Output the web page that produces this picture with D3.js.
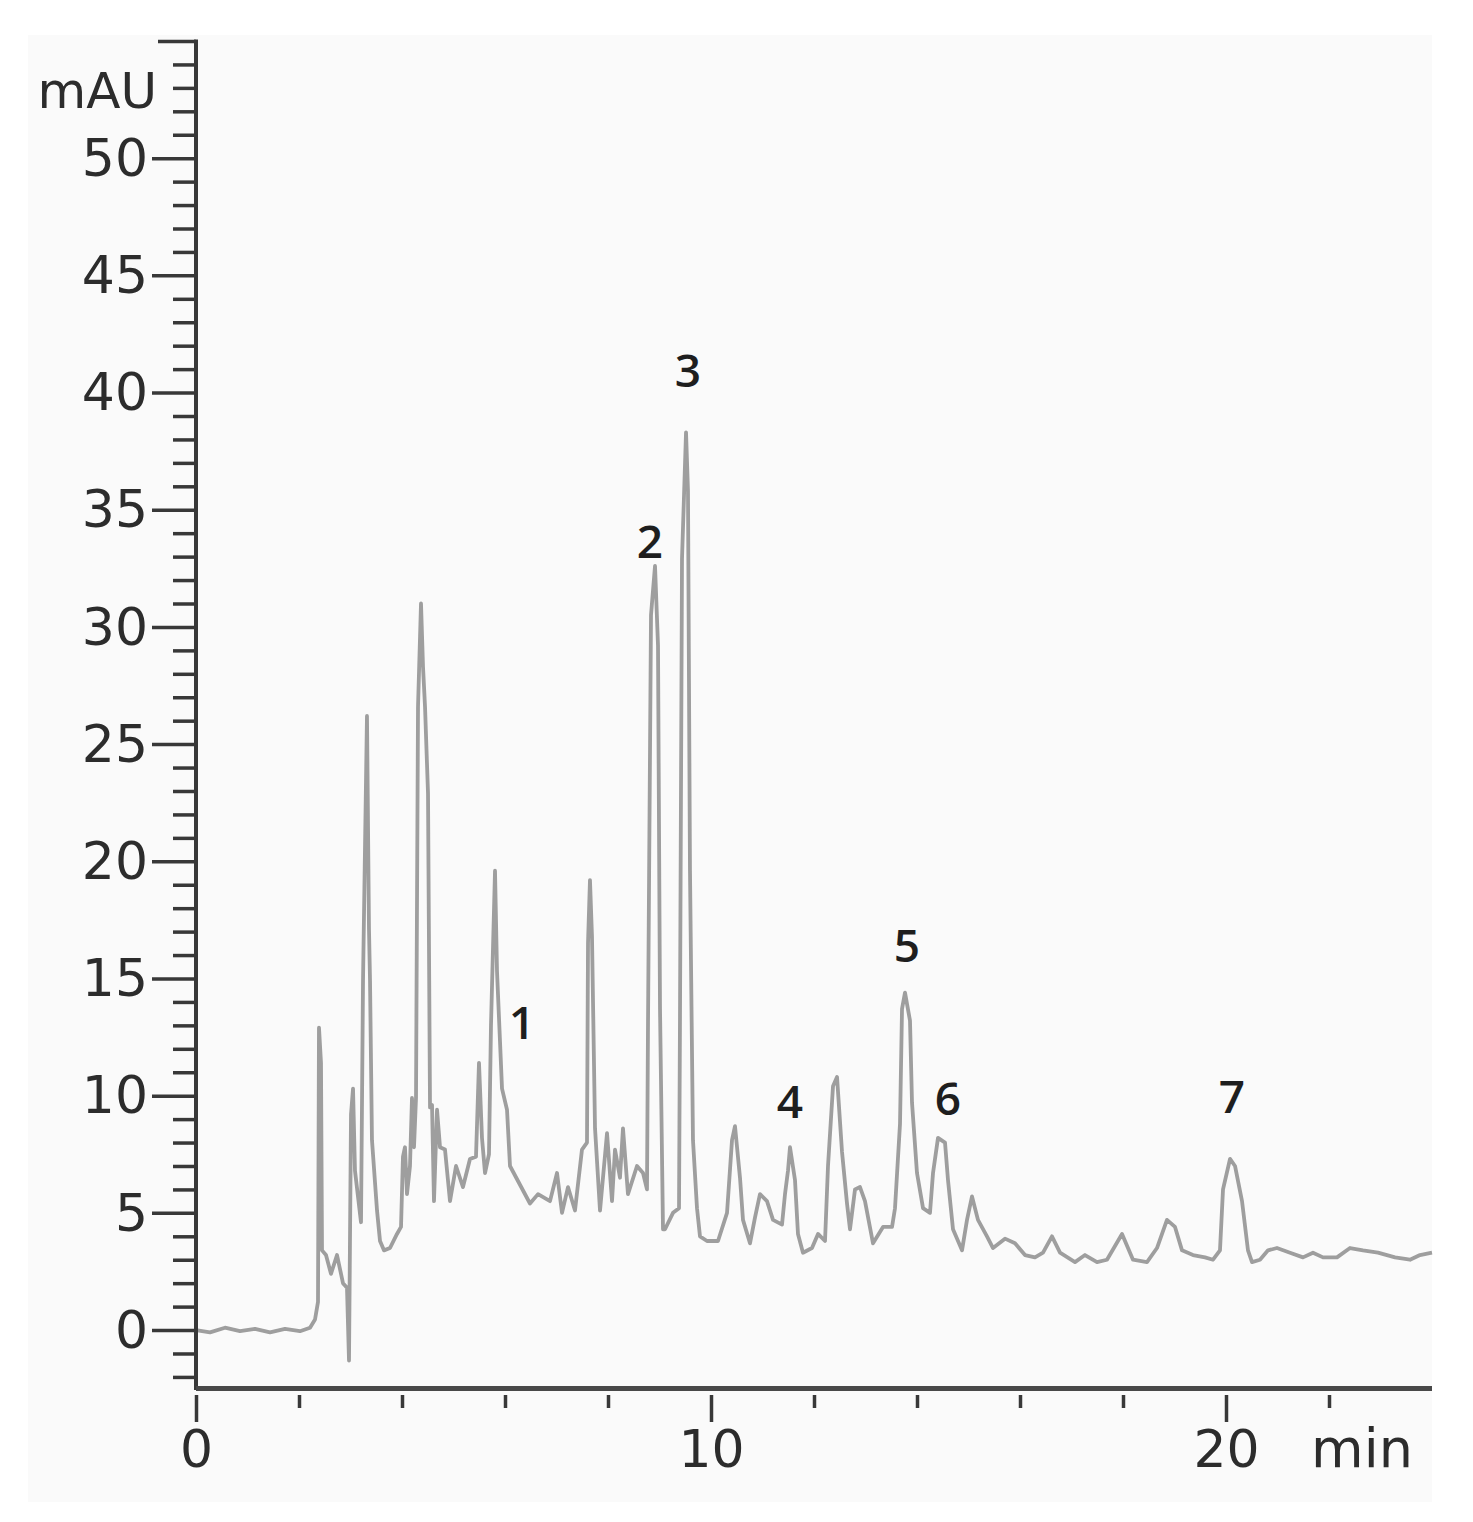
<!DOCTYPE html>
<html>
<head>
<meta charset="utf-8">
<script src="https://cdn.jsdelivr.net/npm/d3@7"></script>
<style>
  html, body { margin: 0; padding: 0; background: #ffffff; }
  svg { display: block; }
</style>
</head>
<body>
<svg id="chart" width="1473" height="1522"></svg>
<script>
// ---- data (retention time in min, absorbance in mAU) ----
const times = [
  0.000, 0.272, 0.563, 0.854, 1.146, 1.437, 1.728, 2.019, 2.214, 2.311,
  2.369, 2.388, 2.427, 2.447, 2.524, 2.621, 2.738, 2.854, 2.932, 2.971,
  3.010, 3.049, 3.087, 3.204, 3.243, 3.320, 3.359, 3.379, 3.417, 3.515,
  3.573, 3.650, 3.767, 3.903, 3.981, 4.019, 4.058, 4.097, 4.155, 4.194,
  4.233, 4.272, 4.311, 4.369, 4.408, 4.447, 4.505, 4.544, 4.583, 4.621,
  4.680, 4.738, 4.835, 4.932, 5.049, 5.184, 5.320, 5.437, 5.495, 5.553,
  5.612, 5.689, 5.728, 5.806, 5.845, 5.942, 6.039, 6.097, 6.291, 6.485,
  6.641, 6.874, 7.010, 7.107, 7.223, 7.359, 7.495, 7.592, 7.612, 7.650,
  7.689, 7.748, 7.845, 7.981, 8.078, 8.136, 8.233, 8.291, 8.388, 8.563,
  8.680, 8.757, 8.777, 8.835, 8.913, 8.971, 9.010, 9.068, 9.107, 9.262,
  9.379, 9.398, 9.437, 9.515, 9.553, 9.592, 9.650, 9.728, 9.786, 9.922,
  10.136, 10.311, 10.408, 10.466, 10.563, 10.621, 10.757, 10.854, 10.951, 11.087,
  11.204, 11.379, 11.437, 11.495, 11.534, 11.631, 11.689, 11.786, 11.961, 12.078,
  12.214, 12.272, 12.369, 12.447, 12.544, 12.641, 12.699, 12.796, 12.893, 12.990,
  13.146, 13.340, 13.515, 13.573, 13.670, 13.709, 13.767, 13.864, 13.903, 14.000,
  14.117, 14.252, 14.311, 14.408, 14.544, 14.602, 14.699, 14.874, 14.971, 15.068,
  15.184, 15.359, 15.476, 15.709, 15.903, 16.097, 16.291, 16.447, 16.621, 16.777,
  17.068, 17.262, 17.495, 17.689, 17.981, 18.194, 18.466, 18.660, 18.854, 19.010,
  19.146, 19.359, 19.592, 19.748, 19.883, 19.942, 20.078, 20.175, 20.311, 20.427,
  20.505, 20.660, 20.816, 20.990, 21.243, 21.495, 21.689, 21.883, 22.155, 22.408,
  22.660, 22.951, 23.282, 23.573, 23.767, 24.000
];
const signal = [
  0.0, -0.1, 0.1, -0.05, 0.05, -0.1, 0.05, -0.05, 0.1, 0.45,
  1.2, 12.9, 11.4, 3.4, 3.2, 2.4, 3.2, 2.0, 1.8, -1.3,
  9.2, 10.3, 6.8, 4.6, 14.9, 26.2, 17.1, 14.9, 8.1, 5.1,
  3.8, 3.4, 3.5, 4.1, 4.4, 7.4, 7.8, 5.8, 7.0, 9.9,
  7.8, 9.9, 26.6, 31.0, 28.3, 26.6, 22.9, 9.5, 9.6, 5.5,
  9.4, 7.8, 7.7, 5.5, 7.0, 6.1, 7.3, 7.4, 11.4, 8.2,
  6.7, 7.5, 13.0, 19.6, 15.3, 10.3, 9.4, 7.0, 6.2, 5.4,
  5.8, 5.5, 6.7, 5.0, 6.1, 5.1, 7.7, 8.0, 16.5, 19.2,
  16.8, 8.6, 5.1, 8.4, 5.5, 7.7, 6.5, 8.6, 5.8, 7.0,
  6.7, 6.0, 13.1, 30.5, 32.6, 29.2, 13.7, 4.3, 4.3, 5.0,
  5.2, 13.4, 32.9, 38.3, 35.8, 19.6, 8.1, 5.2, 4.0, 3.8,
  3.8, 5.0, 8.1, 8.7, 6.5, 4.7, 3.7, 4.8, 5.8, 5.5,
  4.7, 4.5, 5.8, 6.8, 7.8, 6.4, 4.1, 3.3, 3.5, 4.1,
  3.8, 7.0, 10.4, 10.8, 7.6, 5.4, 4.3, 6.0, 6.1, 5.5,
  3.7, 4.4, 4.4, 5.2, 8.8, 13.7, 14.4, 13.2, 9.7, 6.7,
  5.2, 5.0, 6.7, 8.2, 8.0, 6.4, 4.3, 3.4, 4.7, 5.7,
  4.7, 4.0, 3.5, 3.9, 3.7, 3.2, 3.1, 3.3, 4.0, 3.3,
  2.9, 3.2, 2.9, 3.0, 4.1, 3.0, 2.9, 3.5, 4.7, 4.4,
  3.4, 3.2, 3.1, 3.0, 3.4, 6.0, 7.3, 7.0, 5.5, 3.4,
  2.9, 3.0, 3.4, 3.5, 3.3, 3.1, 3.3, 3.1, 3.1, 3.5,
  3.4, 3.3, 3.1, 3.0, 3.2, 3.3
];
const peakLabels = ["1", "2", "3", "4", "5", "6", "7"];
const peakLabelTimes = [6.33, 8.816, 9.553, 11.534, 13.806, 14.602, 20.117];
const peakLabelValues = [12.41, 32.94, 40.23, 9.04, 15.70, 9.17, 9.26];
const yMajorTicks = [0, 5, 10, 15, 20, 25, 30, 35, 40, 45, 50];
const xMajorTicks = [0, 10, 20];
const yAxisTitle = "mAU";
const xAxisTitle = "min";

// ---- layout ----
const svg = d3.select("#chart");
const axisColor = "#383838";
const textColor = "#2c2c2c";
const fontFamily = "'DejaVu Sans', sans-serif";

svg.append("rect")
  .attr("x", 28).attr("y", 35)
  .attr("width", 1404).attr("height", 1467)
  .attr("fill", "#fafafa");

const x = d3.scaleLinear().domain([0, 24]).range([196, 1432]);
const y = d3.scaleLinear().domain([-2.43, 55]).range([1387, 41]);

// ---- trace ----
const pts = times.map((t, i) => [t, signal[i]]);
const line = d3.line().x(d => x(d[0])).y(d => y(d[1]));
svg.append("path")
  .datum(pts)
  .attr("d", line)
  .attr("fill", "none")
  .attr("stroke", "#9e9e9e")
  .attr("stroke-width", 3.8)
  .attr("stroke-linejoin", "round");

// ---- y axis ----
const yMinor = d3.range(-2, 55).filter(v => v % 5 !== 0);
const gyMinor = svg.append("g")
  .attr("transform", `translate(196,0)`)
  .call(d3.axisLeft(y).tickValues(yMinor).tickSize(23).tickSizeOuter(0).tickFormat(""));
gyMinor.select(".domain").remove();

const gyTop = svg.append("g")
  .attr("transform", `translate(196,0)`)
  .call(d3.axisLeft(y).tickValues([55]).tickSize(38).tickSizeOuter(0).tickFormat(""));
gyTop.select(".domain").remove();

const gyMajor = svg.append("g")
  .attr("transform", `translate(196,0)`)
  .call(d3.axisLeft(y).tickValues(yMajorTicks).tickSize(44).tickPadding(4).tickSizeOuter(0));
gyMajor.select(".domain").remove();

[gyMinor, gyTop, gyMajor].forEach(g => {
  g.selectAll(".tick line").attr("stroke", axisColor).attr("stroke-width", 3.5);
});
gyMajor.selectAll(".tick text")
  .attr("font-family", fontFamily)
  .attr("font-size", 52)
  .attr("fill", textColor)
  .attr("dy", "0.33em");

svg.append("line")
  .attr("x1", 196).attr("x2", 196)
  .attr("y1", y(55) - 1.5).attr("y2", 1390)
  .attr("stroke", axisColor).attr("stroke-width", 4);

svg.append("text")
  .attr("x", 157).attr("y", 108)
  .attr("text-anchor", "end")
  .attr("font-family", fontFamily)
  .attr("font-size", 50)
  .attr("fill", textColor)
  .text(yAxisTitle);

// ---- x axis ----
svg.append("line")
  .attr("x1", 196).attr("x2", 1432)
  .attr("y1", 1388.5).attr("y2", 1388.5)
  .attr("stroke", "#484848").attr("stroke-width", 5);

const xMinor = d3.range(2, 24, 2).filter(v => v % 10 !== 0);
const gxMinor = svg.append("g")
  .attr("transform", `translate(0,1395)`)
  .call(d3.axisBottom(x).tickValues(xMinor).tickSize(13).tickSizeOuter(0).tickFormat(""));
gxMinor.select(".domain").remove();

const gxMajor = svg.append("g")
  .attr("transform", `translate(0,1395)`)
  .call(d3.axisBottom(x).tickValues(xMajorTicks).tickSize(27).tickSizeOuter(0));
gxMajor.select(".domain").remove();

[gxMinor, gxMajor].forEach(g => {
  g.selectAll(".tick line").attr("stroke", axisColor).attr("stroke-width", 3.5);
});
gxMajor.selectAll(".tick text")
  .attr("font-family", fontFamily)
  .attr("font-size", 52)
  .attr("fill", textColor)
  .attr("y", 72)
  .attr("dy", 0);

svg.append("text")
  .attr("x", 1362).attr("y", 1467)
  .attr("text-anchor", "middle")
  .attr("font-family", fontFamily)
  .attr("font-size", 54)
  .attr("fill", textColor)
  .text(xAxisTitle);

// ---- peak labels ----
svg.append("g").selectAll("text")
  .data(peakLabels)
  .join("text")
  .attr("x", (d, i) => x(peakLabelTimes[i]))
  .attr("y", (d, i) => y(peakLabelValues[i]))
  .attr("text-anchor", "middle")
  .attr("font-family", "'Open Sans', sans-serif")
  .attr("font-weight", 600)
  .attr("font-size", 46)
  .attr("fill", "#1e1e1e")
  .text(d => d);
</script>
</body>
</html>
